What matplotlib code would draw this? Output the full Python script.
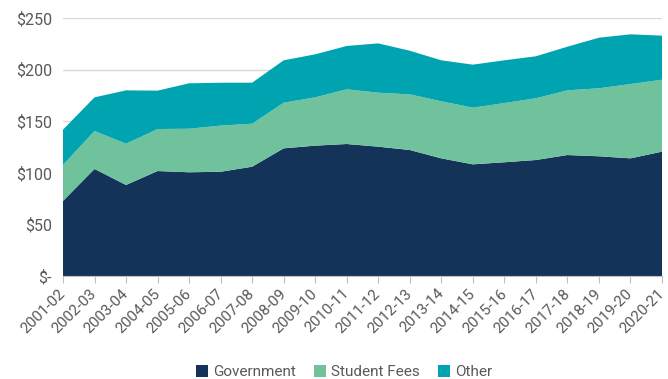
import matplotlib
matplotlib.use("Agg")
import matplotlib.pyplot as plt
from matplotlib.patches import Patch
from matplotlib.ticker import FuncFormatter

years = ["2001-02", "2002-03", "2003-04", "2004-05", "2005-06", "2006-07", "2007-08",
         "2008-09", "2009-10", "2010-11", "2011-12", "2012-13", "2013-14", "2014-15",
         "2015-16", "2016-17", "2017-18", "2018-19", "2019-20", "2020-21"]
government = [72.7, 103.7, 88.2, 101.7, 100.5, 101.0, 105.9, 123.7, 126.3, 127.9,
              125.3, 122.1, 114.0, 108.2, 110.2, 112.4, 117.2, 116.0, 114.0, 120.5]
student_fees = [34.9, 36.8, 40.0, 40.7, 42.2, 44.7, 41.7, 44.2, 46.8, 53.0,
                52.3, 53.9, 55.3, 54.9, 57.4, 59.8, 62.7, 65.9, 72.0, 69.7]
other = [34.2, 32.6, 51.7, 37.2, 44.0, 41.6, 39.7, 41.1, 41.7, 42.0,
         47.8, 42.3, 39.7, 41.7, 41.4, 40.7, 42.3, 49.0, 48.2, 42.7]
series_names = ["Government", "Student Fees", "Other"]
colors = ["#133458", "#70c29c", "#00a4b1"]
yticks = [0, 50, 100, 150, 200, 250]

plt.rcParams['font.family'] = ['Roboto', 'DejaVu Sans']
fig = plt.figure(figsize=(6.68, 3.79), dpi=100)
ax = fig.add_axes([0.0943, 0.2718, 0.8967, 0.6807])

x = list(range(len(years)))
ax.stackplot(x, government, student_fees, other, colors=colors, linewidth=0, zorder=2)

ax.set_xlim(0, len(years) - 1)
ax.set_ylim(0, 250)
ax.set_yticks(yticks)
ax.yaxis.set_major_formatter(FuncFormatter(lambda v, p: "$-" if v == 0 else f"${int(v)}"))
ax.set_xticks(x)
ax.set_xticklabels(years, rotation=45, ha="right", va="center", rotation_mode="anchor")

ax.grid(axis="y", color="#d9d9d9", linewidth=1, zorder=0)
for s in ["top", "right", "left"]:
    ax.spines[s].set_visible(False)
ax.spines["bottom"].set_color("#bfbfbf")
ax.spines["bottom"].set_zorder(3)
ax.tick_params(axis="y", length=0, labelsize=11.5, labelcolor="#595959", pad=8)
ax.tick_params(axis="x", length=5, color="#bfbfbf", labelsize=11, labelcolor="#595959", pad=6)

handles = [Patch(facecolor=c, edgecolor="none") for c in colors]
fig.legend(handles, series_names, loc="center", bbox_to_anchor=(0.515, 0.018),
           ncol=3, frameon=False, fontsize=11, handlelength=0.8, handleheight=0.8,
           handletextpad=0.3, columnspacing=1.2, labelcolor="#595959")

fig.savefig("out.png", dpi=100)
